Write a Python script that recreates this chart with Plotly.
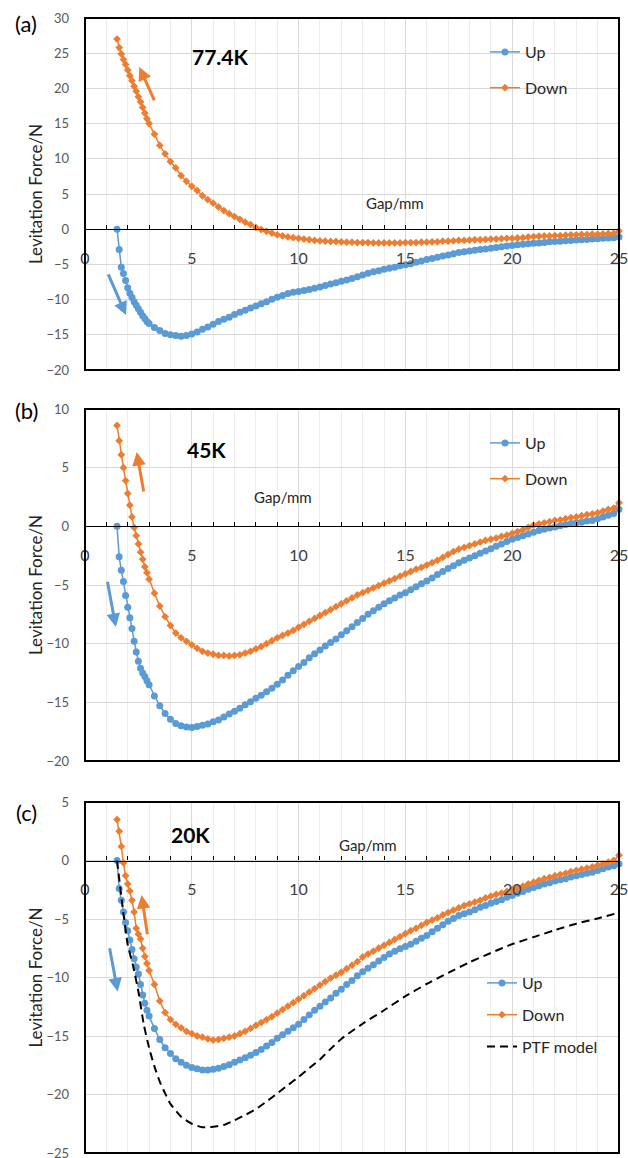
import plotly.graph_objects as go

# ---------------- data ----------------
gap = [1.5, 1.6, 1.7, 1.8, 1.9, 2.0, 2.1, 2.2, 2.3, 2.4, 2.5, 2.6, 2.7, 2.8, 2.9, 3.0,
       3.25, 3.5, 3.75, 4.0, 4.25, 4.5, 4.75, 5.0, 5.25, 5.5, 5.75, 6.0,
       6.25, 6.5, 6.75, 7.0, 7.25, 7.5, 7.75, 8.0, 8.25, 8.5, 8.75, 9.0,
       9.25, 9.5, 9.75, 10.0, 10.25, 10.5, 10.75, 11.0, 11.25, 11.5, 11.75, 12.0,
       12.25, 12.5, 12.75, 13.0, 13.25, 13.5, 13.75, 14.0, 14.25, 14.5, 14.75, 15.0,
       15.25, 15.5, 15.75, 16.0, 16.25, 16.5, 16.75, 17.0, 17.25, 17.5, 17.75, 18.0,
       18.25, 18.5, 18.75, 19.0, 19.25, 19.5, 19.75, 20.0, 20.25, 20.5, 20.75, 21.0,
       21.25, 21.5, 21.75, 22.0, 22.25, 22.5, 22.75, 23.0, 23.25, 23.5, 23.75, 24.0,
       24.25, 24.5, 24.75, 25.0]

a_up = [0, -2.9, -5.4, -6.3, -7.3, -8.3, -9.1, -9.7, -10.3, -10.8, -11.3, -11.8, -12.3, -12.7, -13.1, -13.4,
        -13.95, -14.4, -14.8, -15.0, -15.1, -15.2, -15.1, -14.9, -14.6, -14.2, -13.9, -13.5,
        -13.1, -12.8, -12.5, -12.1, -11.8, -11.5, -11.2, -10.9, -10.6, -10.3, -9.95, -9.65,
        -9.4, -9.15, -8.95, -8.85, -8.7, -8.55, -8.4, -8.2, -8.0, -7.8, -7.6, -7.4,
        -7.2, -7.0, -6.75, -6.5, -6.25, -6.05, -5.9, -5.7, -5.55, -5.4, -5.2, -5.05,
        -4.9, -4.7, -4.5, -4.3, -4.15, -4.0, -3.8, -3.65, -3.5, -3.3, -3.2, -3.1,
        -3.0, -2.9, -2.8, -2.7, -2.6, -2.5, -2.4, -2.3, -2.2, -2.15, -2.05, -2.0,
        -1.95, -1.9, -1.8, -1.75, -1.7, -1.65, -1.6, -1.55, -1.5, -1.45, -1.4, -1.35,
        -1.3, -1.25, -1.2, -1.1]
a_down = [27.0, 25.8, 24.9, 24.1, 23.4, 22.6, 21.8, 21.1, 20.3, 19.6, 18.8, 18.1, 17.3, 16.5, 15.7, 15.0,
          13.5, 11.9, 10.7, 9.6, 8.7, 7.6, 6.8, 6.1, 5.5, 4.75, 4.2, 3.7,
          3.15, 2.65, 2.2, 1.8, 1.4, 1.0, 0.65, 0.25, -0.05, -0.3, -0.55, -0.8,
          -0.95, -1.1, -1.2, -1.3, -1.4, -1.5, -1.6, -1.65, -1.7, -1.75, -1.75, -1.8,
          -1.85, -1.85, -1.9, -1.9, -1.9, -1.95, -1.95, -1.95, -1.95, -1.95, -1.95, -1.9,
          -1.9, -1.9, -1.85, -1.85, -1.8, -1.8, -1.7, -1.7, -1.65, -1.6, -1.6, -1.55,
          -1.5, -1.5, -1.45, -1.4, -1.4, -1.35, -1.3, -1.3, -1.25, -1.2, -1.1, -1.05,
          -1.0, -0.95, -0.95, -0.9, -0.9, -0.85, -0.8, -0.8, -0.75, -0.75, -0.7, -0.7,
          -0.65, -0.6, -0.6, -0.25]

b_up = [0, -2.6, -3.75, -4.7, -5.9, -6.9, -7.8, -8.7, -9.8, -10.7, -11.5, -12.1, -12.5, -12.8, -13.15, -13.5,
        -14.45, -15.3, -15.95, -16.45, -16.8, -17.0, -17.1, -17.15, -17.05, -16.95, -16.85, -16.65,
        -16.5, -16.25, -16.0, -15.75, -15.5, -15.2, -14.95, -14.65, -14.4, -14.1, -13.8, -13.45,
        -13.1, -12.7, -12.3, -11.95, -11.6, -11.2, -10.85, -10.55, -10.2, -9.9, -9.6, -9.25,
        -8.9, -8.55, -8.2, -7.85, -7.5, -7.2, -6.9, -6.6, -6.35, -6.1, -5.85, -5.65,
        -5.4, -5.15, -4.9, -4.65, -4.4, -4.1, -3.85, -3.6, -3.35, -3.1, -2.9, -2.7,
        -2.5, -2.3, -2.1, -1.9, -1.7, -1.5, -1.3, -1.1, -0.95, -0.8, -0.65, -0.5,
        -0.35, -0.25, -0.15, -0.05, 0.05, 0.15, 0.25, 0.3, 0.35, 0.45, 0.5, 0.65,
        0.8, 0.95, 1.1, 1.45]
b_down = [8.6, 7.3, 6.1, 5.0, 3.9, 2.8, 1.8, 0.8, -0.1, -0.8, -1.5, -2.2, -2.8, -3.45, -3.95, -4.5,
          -5.7, -6.8, -7.7, -8.45, -9.1, -9.5, -9.8, -10.1, -10.4, -10.65, -10.8, -10.9,
          -11.0, -11.0, -11.05, -11.0, -10.95, -10.8, -10.65, -10.45, -10.25, -10.0, -9.75, -9.5,
          -9.3, -9.1, -8.87, -8.6, -8.35, -8.1, -7.85, -7.6, -7.35, -7.1, -6.85, -6.6,
          -6.35, -6.1, -5.85, -5.65, -5.45, -5.25, -5.05, -4.85, -4.65, -4.45, -4.25, -4.05,
          -3.85, -3.65, -3.5, -3.3, -3.1, -2.9, -2.65, -2.4, -2.15, -1.95, -1.8, -1.65,
          -1.5, -1.35, -1.2, -1.1, -1.0, -0.85, -0.75, -0.6, -0.45, -0.3, -0.1, 0.1,
          0.2, 0.3, 0.4, 0.5, 0.55, 0.65, 0.75, 0.8, 0.9, 1.0, 1.05, 1.15,
          1.3, 1.45, 1.55, 2.0]

c_up = [0, -2.4, -3.4, -4.4, -5.3, -6.0, -6.8, -7.6, -8.4, -9.1, -9.7, -10.6, -11.5, -12.2, -12.8, -13.3,
        -14.35, -15.3, -16.0, -16.5, -16.95, -17.25, -17.5, -17.7, -17.8, -17.9, -17.9, -17.85,
        -17.75, -17.6, -17.45, -17.25, -17.05, -16.85, -16.65, -16.4, -16.15, -15.85, -15.55, -15.2,
        -14.9, -14.6, -14.3, -14.0, -13.6, -13.2, -12.8, -12.45, -12.1, -11.75, -11.35, -11.0,
        -10.6, -10.25, -9.85, -9.5, -9.2, -8.9, -8.6, -8.3, -8.0, -7.75, -7.55, -7.35,
        -7.15, -6.9, -6.65, -6.4, -6.1, -5.8, -5.5, -5.2, -4.95, -4.7, -4.55, -4.4,
        -4.2, -4.0, -3.85, -3.65, -3.5, -3.35, -3.15, -3.0, -2.8, -2.65, -2.45, -2.3,
        -2.15, -2.0, -1.9, -1.75, -1.65, -1.55, -1.4, -1.3, -1.2, -1.1, -1.0, -0.85,
        -0.7, -0.55, -0.45, -0.3]
c_down = [3.5, 2.5, 1.2, -0.2, -1.3, -2.0, -2.6, -3.4, -4.4, -5.8, -6.3, -6.7, -7.5, -8.2, -8.8, -9.4,
          -10.6, -12.0, -13.0, -13.6, -14.0, -14.3, -14.6, -14.8, -15.0, -15.1, -15.25, -15.35,
          -15.3, -15.2, -15.1, -15.0, -14.8, -14.6, -14.35, -14.1, -13.85, -13.6, -13.35, -13.05,
          -12.75, -12.45, -12.15, -11.85, -11.55, -11.25, -10.95, -10.65, -10.35, -10.05, -9.8, -9.55,
          -9.25, -8.95, -8.65, -8.25, -8.0, -7.75, -7.5, -7.25, -7.0, -6.75, -6.5, -6.25,
          -6.0, -5.8, -5.55, -5.3, -5.1, -4.9, -4.65, -4.45, -4.25, -4.05, -3.85, -3.7,
          -3.55, -3.4, -3.2, -3.05, -2.9, -2.8, -2.65, -2.5, -2.35, -2.2, -2.0, -1.85,
          -1.7, -1.55, -1.45, -1.3, -1.2, -1.1, -0.95, -0.85, -0.75, -0.65, -0.55, -0.4,
          -0.3, -0.15, 0.0, 0.45]

ptf_gap = [1.5, 1.75, 2.0, 2.25, 2.5, 2.75, 3.0, 3.25, 3.5, 3.75, 4.0, 4.5, 5.0, 5.5, 6.0, 6.5,
           7.0, 7.5, 8.0, 8.5, 9.0, 9.5, 10.0, 10.5, 11.0, 11.5, 12.0, 13.0, 14.0, 15.0, 16.0,
           17.0, 18.0, 19.0, 20.0, 21.0, 22.0, 23.0, 24.0, 25.0]
ptf_force = [0, -3.8, -7.2, -9.0, -11.2, -14.0, -16.0, -17.6, -18.9, -19.9, -20.8, -21.9, -22.5, -22.8,
             -22.75, -22.6, -22.2, -21.75, -21.25, -20.6, -19.9, -19.2, -18.5, -17.75, -17.0, -16.1,
             -15.25, -13.95, -12.8, -11.6, -10.55, -9.6, -8.7, -7.9, -7.15, -6.55, -5.95, -5.4, -4.95, -4.45]

panel_tags = ["(a)", "(b)", "(c)"]
temps = ["77.4K", "45K", "20K"]
y_ranges = [[-20, 30], [-20, 10], [-25, 5]]
x_ticks = [0, 5, 10, 15, 20, 25]

# ---------------- layout helpers ----------------
# The page body margin is removed (post_script), so figure pixels == page pixels.
W, H = 628, 1158
def fx(px): return px / W
def fy(py): return 1 - py / H

BLUE = "#5B9BD5"
ORANGE = "#ED7D31"
FONT = "Lato, 'Open Sans', sans-serif"
GRAY = "#595959"

XDOM = [fx(85), fx(619)]
boxes = [(18, 370), (409, 761), (802, 1153)]

fig = go.Figure()
series = [(a_up, a_down), (b_up, b_down), (c_up, c_down)]
legend_names = ["legend", "legend2", "legend3"]

layout = dict(
    width=W, height=H, margin=dict(l=0, r=0, t=0, b=0, autoexpand=False),
    paper_bgcolor="white", plot_bgcolor="white",
    font=dict(family=FONT, color=GRAY),
    showlegend=True,
)

for i in range(3):
    top, bot = boxes[i]
    ydom = [fy(bot), fy(top)]
    ymin, ymax = y_ranges[i]
    zero_pos = ydom[0] + (0 - ymin) / (ymax - ymin) * (ydom[1] - ydom[0])
    sx = "" if i == 0 else str(i + 1)
    xname, yname = "x" + sx, "y" + sx
    layout["xaxis" + sx] = dict(
        domain=XDOM, range=[0, 25], anchor="free", position=zero_pos,
        tickvals=x_ticks, ticks="inside", ticklen=4, tickcolor="black", tickwidth=1,
        showline=True, linecolor="black", linewidth=1.3,
        showgrid=True, gridcolor="#D9D9D9", gridwidth=1, zeroline=False,
        minor=dict(dtick=1, tick0=0, ticks="inside", ticklen=4, tickcolor="black",
                   showgrid=True, gridcolor="#EDEDED", gridwidth=1),
        tickfont=dict(size=16, color="#404040", family=FONT),
        ticklabelstandoff=14, ticklabeloverflow="allow",
        fixedrange=True, automargin=False,
    )
    layout["yaxis" + sx] = dict(
        domain=ydom, range=[ymin, ymax], anchor=xname, dtick=5, tick0=0,
        showgrid=True, gridcolor="#D9D9D9", gridwidth=1, zeroline=False,
        showline=False, ticks="", ticklabelstandoff=15, ticklabeloverflow="allow",
        automargin=False, tickfont=dict(size=13, color=GRAY, family=FONT), fixedrange=True,
    )
    up, down = series[i]
    lg = legend_names[i]
    fig.add_trace(go.Scatter(
        x=gap, y=up, name="Up", mode="lines+markers", xaxis=xname, yaxis=yname,
        line=dict(color=BLUE, width=1.5), marker=dict(symbol="circle", size=7, color=BLUE),
        legend=lg, legendgroup=f"up{i}", cliponaxis=False))
    fig.add_trace(go.Scatter(
        x=gap, y=down, name="Down", mode="lines+markers", xaxis=xname, yaxis=yname,
        line=dict(color=ORANGE, width=1.5), marker=dict(symbol="diamond", size=6, color=ORANGE),
        legend=lg, legendgroup=f"down{i}", cliponaxis=False))
    if i == 2:
        fig.add_trace(go.Scatter(
            x=ptf_gap, y=ptf_force, name="PTF model", mode="lines", xaxis=xname, yaxis=yname,
            line=dict(color="black", width=2, dash="8px,5px", shape="spline", smoothing=0.6),
            legend=lg, legendgroup="ptf", cliponaxis=False))

# legends
LEG_FONT = dict(size=16, color="#262626", family=FONT)
layout["legend"] = dict(x=fx(485), y=fy(35), xanchor="left", yanchor="top",
                        bgcolor="rgba(0,0,0,0)", font=LEG_FONT, tracegroupgap=12, itemwidth=30)
layout["legend2"] = dict(x=fx(485), y=fy(426), xanchor="left", yanchor="top",
                         bgcolor="rgba(0,0,0,0)", font=LEG_FONT, tracegroupgap=12, itemwidth=30)
layout["legend3"] = dict(x=fx(482), y=fy(966), xanchor="left", yanchor="top",
                         bgcolor="rgba(0,0,0,0)", font=LEG_FONT, tracegroupgap=8, itemwidth=30)

shapes = []
annotations = []
gap_label_pos = [(395, 203), (283, 497), (368, 845)]
temp_pos = [(220, 56), (206, 449), (190, 834)]
tag_pos = [(26, 24), (26, 410), (26, 812)]
arrows = [
    [dict(x=2.54, y=23.05, ax=3.28, ay=18.1, c=ORANGE), dict(x=1.92, y=-12.2, ax=1.06, ay=-6.2, c=BLUE)],
    [dict(x=2.42, y=6.33, ax=2.76, ay=2.84, c=ORANGE), dict(x=1.44, y=-8.58, ax=1.04, ay=-4.6, c=BLUE)],
    [dict(x=2.65, y=-2.95, ax=2.93, ay=-6.43, c=ORANGE), dict(x=1.53, y=-11.2, ax=1.14, ay=-7.37, c=BLUE)],
]
for i in range(3):
    sx = "" if i == 0 else str(i + 1)
    top, bot = boxes[i]
    shapes.append(dict(type="rect", xref=f"x{sx} domain", yref=f"y{sx} domain",
                       x0=0, x1=1, y0=0, y1=1, line=dict(color="black", width=2),
                       layer="above"))
    annotations.append(dict(text="Levitation Force/N", textangle=-90, xref="paper", yref="paper",
                            x=fx(35), y=fy((top + bot) / 2), xanchor="center", yanchor="middle",
                            showarrow=False, font=dict(size=17, color="#262626", family=FONT)))
    gx, gy = gap_label_pos[i]
    annotations.append(dict(text="Gap/mm", xref="paper", yref="paper", x=fx(gx), y=fy(gy),
                            xanchor="center", yanchor="middle",
                            showarrow=False, font=dict(size=15, color="#262626", family=FONT)))
    tx, ty = temp_pos[i]
    annotations.append(dict(text=f"<b>{temps[i]}</b>", xref="paper", yref="paper", x=fx(tx), y=fy(ty),
                            xanchor="center", yanchor="middle",
                            showarrow=False, font=dict(size=21, color="black", family=FONT)))
    px_, py_ = tag_pos[i]
    annotations.append(dict(text=panel_tags[i], xref="paper", yref="paper", x=fx(px_), y=fy(py_),
                            xanchor="center", yanchor="middle",
                            showarrow=False, font=dict(size=22, color="black", family=FONT)))
    for a in arrows[i]:
        annotations.append(dict(text="", x=a["x"], y=a["y"], ax=a["ax"], ay=a["ay"],
                                xref="x" + sx, yref="y" + sx, axref="x" + sx, ayref="y" + sx,
                                showarrow=True, arrowhead=2, arrowsize=0.9, arrowwidth=3,
                                arrowcolor=a["c"]))

layout["shapes"] = shapes
layout["annotations"] = annotations
fig.update_layout(**layout)
fig.write_html(
    "out.html",
    config={"displayModeBar": False},
    post_script="document.body.style.margin='0';document.body.style.overflow='hidden';",
)
